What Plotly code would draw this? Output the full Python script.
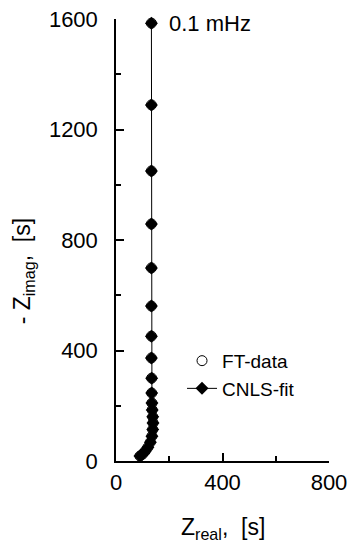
import plotly.graph_objects as go

# Data
z_real = [133, 133, 133, 133, 133, 133, 133, 133, 134, 134, 135, 136, 138, 139, 138, 135, 129, 120, 110, 100, 90]
z_imag = [1585, 1289, 1050, 858, 699, 561, 452, 373, 300, 246, 210, 185, 160, 138, 114, 90, 68, 50, 36, 25, 18]

x_ticks = [0, 400, 800]
y_ticks = [0, 400, 800, 1200, 1600]

FONT = "Arial, Liberation Sans, sans-serif"

fig = go.Figure()
fig.add_trace(go.Scatter(
    x=z_real, y=z_imag, mode="markers", name="FT-data",
    marker=dict(symbol="circle-open", size=10, color="black", line=dict(width=1)),
    cliponaxis=False,
))
fig.add_trace(go.Scatter(
    x=z_real, y=z_imag, mode="lines+markers", name="CNLS-fit",
    line=dict(color="black", width=1),
    marker=dict(symbol="diamond", size=10, color="black"),
    cliponaxis=False,
))

axis_common = dict(
    showline=True, linecolor="black", linewidth=1.5, mirror=False,
    ticks="inside", ticklen=8, tickwidth=1.5, tickcolor="black",
    showgrid=False, zeroline=False, automargin=False,
    tickfont=dict(family=FONT, size=22, color="black"),
)

fig.update_xaxes(
    range=[0, 800], tickvals=x_ticks, ticktext=[str(v) for v in x_ticks],
    minor=dict(tickvals=[200, 600], ticks="inside", ticklen=5, tickwidth=1.5, tickcolor="black"),
    ticklabelstandoff=1,
    **axis_common,
)
fig.update_yaxes(
    range=[0, 1600], tickvals=y_ticks, ticktext=[str(v) for v in y_ticks],
    minor=dict(tickvals=[200, 600, 1000, 1400], ticks="inside", ticklen=5, tickwidth=1.5, tickcolor="black"),
    ticklabelstandoff=12,
    **axis_common,
)

fig.add_annotation(
    x=0.5, y=-0.115, xref="paper", yref="paper", xanchor="center", yanchor="top",
    text="Z<sub>real</sub>,  [s]", showarrow=False,
    font=dict(family=FONT, size=23, color="black"),
)
fig.add_annotation(
    x=-0.43, y=0.43, xref="paper", yref="paper", xanchor="center", yanchor="middle",
    text="- Z<sub>imag</sub>,  [s]", textangle=-90, showarrow=False,
    font=dict(family=FONT, size=23, color="black"),
)
fig.add_annotation(
    x=191, y=1585, xref="x", yref="y", xanchor="left", yanchor="middle",
    text="0.1 mHz", showarrow=False,
    font=dict(family=FONT, size=22, color="black"),
)

fig.update_layout(
    width=350, height=545,
    margin=dict(l=116, r=21, t=19, b=84, autoexpand=False),
    paper_bgcolor="white", plot_bgcolor="white",
    showlegend=True,
    legend=dict(
        x=0.31, y=0.195, xanchor="left", yanchor="middle",
        bgcolor="rgba(0,0,0,0)", font=dict(family=FONT, size=19, color="black"),
        tracegroupgap=0, itemwidth=30,
    ),
)

fig.write_html(
    "out.html",
    config={"displayModeBar": False},
    post_script="document.body.style.margin='0';document.body.style.padding='0';document.body.style.overflow='hidden';",
)
